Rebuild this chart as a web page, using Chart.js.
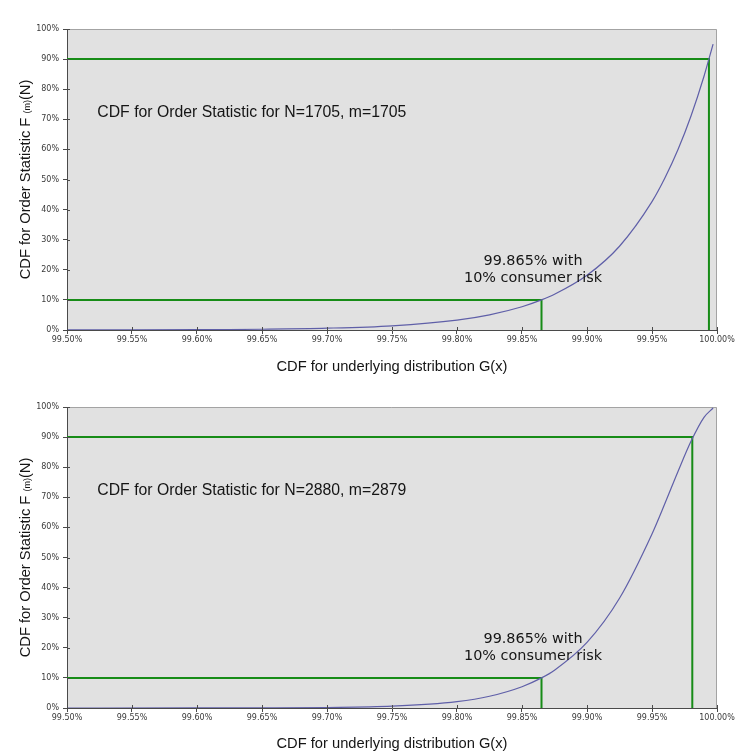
<!DOCTYPE html>
<html lang="en">
<head>
    <meta charset="UTF-8">
    <title>CDF for Order Statistic</title>
    <script src="https://cdn.jsdelivr.net/npm/chart.js"></script>
    <style>
        html, body {
            margin: 0;
            padding: 0;
            background-color: #ffffff;
        }
        .chart-box {
            position: absolute;
            left: 0;
            width: 738px;
        }
    </style>
</head>
<body>

<div class="chart-box" style="top: 0; height: 376px;">
    <canvas id="chartTop" width="738" height="376"></canvas>
</div>
<div class="chart-box" style="top: 376px; height: 377px;">
    <canvas id="chartBottom" width="738" height="377"></canvas>
</div>

<script>
// axis ticks
const xTicks = [99.50, 99.55, 99.60, 99.65, 99.70, 99.75, 99.80, 99.85, 99.90, 99.95, 100.00];
const yTicks = [0, 10, 20, 30, 40, 50, 60, 70, 80, 90, 100];

// N=1705, m=1705
const gTop = [99.50, 99.55, 99.60, 99.62, 99.65, 99.70, 99.75, 99.80, 99.825, 99.85, 99.865, 99.875, 99.90, 99.925, 99.95, 99.96, 99.97, 99.98, 99.99, 99.997];
const fTop = [0.02, 0.05, 0.11, 0.15, 0.25, 0.60, 1.40, 3.29, 5.05, 7.73, 10.0, 11.85, 18.16, 27.82, 42.63, 50.55, 59.95, 71.1, 84.3, 95.0];
const riskTop = [99.865, 99.9938];

// N=2880, m=2879
const gBottom = [99.50, 99.60, 99.65, 99.70, 99.75, 99.80, 99.825, 99.85, 99.865, 99.875, 99.90, 99.925, 99.95, 99.96, 99.97, 99.98, 99.99, 99.997];
const fBottom = [0, 0.01, 0.05, 0.17, 0.61, 2.13, 3.91, 7.08, 10.0, 12.57, 21.78, 36.44, 57.81, 68.0, 78.56, 88.59, 96.57, 99.66];
const riskBottom = [99.865, 99.981];

const riskLevels = [10, 90];

const titleTop = 'CDF for Order Statistic for N=1705, m=1705';
const titleBottom = 'CDF for Order Statistic for N=2880, m=2879';
const noteLines = ['99.865% with', '10% consumer risk'];

const plotFrame = {
    id: 'plotFrame',
    beforeDraw(chart) {
        const a = chart.chartArea;
        const ctx = chart.ctx;
        ctx.save();
        ctx.fillStyle = '#e1e1e1';
        ctx.fillRect(a.left, a.top, a.right - a.left, a.bottom - a.top);
        ctx.strokeStyle = '#a3a3a3';
        ctx.lineWidth = 1;
        ctx.beginPath();
        ctx.moveTo(a.left, a.top + 0.5);
        ctx.lineTo(a.right - 0.5, a.top + 0.5);
        ctx.lineTo(a.right - 0.5, a.bottom);
        ctx.stroke();
        ctx.restore();
    },
    // inner half of the crossing tick marks
    afterDraw(chart) {
        const ctx = chart.ctx;
        const x = chart.scales.x;
        const y = chart.scales.y;
        const a = chart.chartArea;
        ctx.save();
        ctx.strokeStyle = '#4a4a4a';
        ctx.lineWidth = 1;
        ctx.beginPath();
        xTicks.forEach(v => {
            const px = Math.round(x.getPixelForValue(v)) + 0.5;
            ctx.moveTo(px, a.bottom);
            ctx.lineTo(px, a.bottom - 3);
        });
        yTicks.forEach(v => {
            const py = Math.round(y.getPixelForValue(v)) + 0.5;
            ctx.moveTo(a.left, py);
            ctx.lineTo(a.left + 3, py);
        });
        ctx.stroke();
        ctx.restore();
    }
};

const labels = {
    id: 'labels',
    afterDraw(chart, args, opts) {
        const ctx = chart.ctx;
        const x = chart.scales.x;
        const y = chart.scales.y;
        const a = chart.chartArea;
        ctx.save();
        ctx.fillStyle = '#151515';

        // big caption
        ctx.font = '15.8px "Liberation Sans", Arial, sans-serif';
        ctx.textAlign = 'left';
        ctx.textBaseline = 'middle';
        ctx.fillText(opts.caption, x.getPixelForValue(99.5233), y.getPixelForValue(72.2));

        // risk note
        ctx.font = '14.4px "DejaVu Sans", Verdana, sans-serif';
        ctx.textAlign = 'center';
        ctx.fillText(noteLines[0], x.getPixelForValue(99.8585), y.getPixelForValue(22.9));
        ctx.fillText(noteLines[1], x.getPixelForValue(99.8585), y.getPixelForValue(17.2));

        // y axis title with subscript
        const big = '14.7px "Liberation Sans", Arial, sans-serif';
        const small = '9px "Liberation Sans", Arial, sans-serif';
        const parts = [['CDF for Order Statistic F ', big, 0], ['(m)', small, 2], ['(N)', big, 0]];
        let total = 0;
        parts.forEach(p => { ctx.font = p[1]; total += ctx.measureText(p[0]).width; });
        ctx.translate(26, (a.top + a.bottom) / 2);
        ctx.rotate(-Math.PI / 2);
        ctx.textAlign = 'left';
        let pos = -total / 2;
        parts.forEach(p => {
            ctx.font = p[1];
            ctx.fillText(p[0], pos, p[2]);
            pos += ctx.measureText(p[0]).width;
        });
        ctx.restore();
    }
};

function makeChart(id, g, f, risk, caption, topPad, xHeight) {
    const greenSets = riskLevels.map((lvl, i) => ({
        data: [{x: xTicks[0], y: lvl}, {x: risk[i], y: lvl}, {x: risk[i], y: 0}],
        borderColor: '#178c17',
        borderWidth: 2,
        pointRadius: 0,
        tension: 0
    }));

    return new Chart(document.getElementById(id), {
        type: 'line',
        data: {
            datasets: [{
                data: g.map((v, i) => ({x: v, y: f[i]})),
                borderColor: '#5f5fa8',
                borderWidth: 1.2,
                pointRadius: 0,
                cubicInterpolationMode: 'monotone'
            }].concat(greenSets)
        },
        options: {
            responsive: false,
            animation: false,
            layout: { padding: { left: 0, top: topPad, right: 21, bottom: 0 } },
            plugins: {
                legend: { display: false },
                tooltip: { enabled: false },
                labels: { caption: caption }
            },
            scales: {
                x: {
                    type: 'linear',
                    min: 99.5,
                    max: 100,
                    afterBuildTicks: s => { s.ticks = xTicks.map(v => ({value: v})); },
                    afterFit: s => { s.height = xHeight; },
                    ticks: {
                        callback: v => v.toFixed(2) + '%',
                        font: { family: '"DejaVu Sans", sans-serif', size: 8 },
                        color: '#3a3a3a',
                        padding: 1,
                        maxRotation: 0,
                        autoSkip: false
                    },
                    grid: { drawOnChartArea: false, tickLength: 4, color: '#4a4a4a' },
                    border: { color: '#4a4a4a' },
                    title: {
                        display: true,
                        text: 'CDF for underlying distribution G(x)',
                        font: { family: '"Liberation Sans", Arial, sans-serif', size: 14.7 },
                        color: '#151515',
                        padding: { top: 0, bottom: 0 }
                    }
                },
                y: {
                    min: 0,
                    max: 100,
                    afterBuildTicks: s => { s.ticks = yTicks.map(v => ({value: v})); },
                    afterFit: s => { s.width = 67; },
                    ticks: {
                        callback: v => v + '%',
                        font: { family: '"DejaVu Sans", sans-serif', size: 8 },
                        color: '#3a3a3a',
                        padding: 4
                    },
                    grid: { drawOnChartArea: false, tickLength: 4, color: '#4a4a4a' },
                    border: { color: '#4a4a4a' }
                }
            }
        },
        plugins: [plotFrame, labels]
    });
}

makeChart('chartTop', gTop, fTop, riskTop, titleTop, 29, 46);
makeChart('chartBottom', gBottom, fBottom, riskBottom, titleBottom, 31, 45);
</script>

</body>
</html>
